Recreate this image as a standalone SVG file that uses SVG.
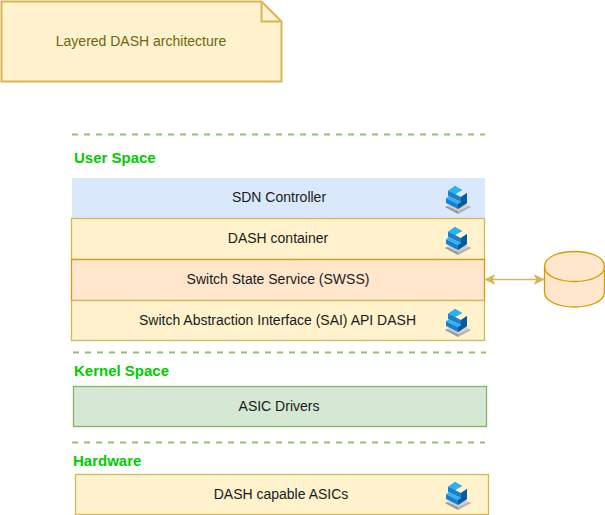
<svg xmlns="http://www.w3.org/2000/svg" width="605" height="515" viewBox="0 0 605 515">
<defs>
<style>
text{font-family:"Liberation Sans",Arial,sans-serif;font-size:14px;fill:#1a1a1a;text-anchor:middle}
.h{font-size:15px;font-weight:bold;fill:#00cc00;text-anchor:start}
.y{fill:#fff2cc;stroke:#d6b656;stroke-width:1.3}
.sep{stroke:#82b366;stroke-width:2;stroke-dasharray:6 6;opacity:.85;fill:none}
</style>
<marker id="a" viewBox="0 0 10 10" refX="9" refY="5" markerWidth="11" markerHeight="11" orient="auto-start-reverse" markerUnits="userSpaceOnUse"><path d="M0 0L10 5L0 10L2.500 5Z" fill="#d6b656"/></marker>
<g id="ic">
<path d="M-13 21L0 14L13 21L0 28Z" fill="#d0d0d0"/>
<path d="M-13 21L0 28V25L-11 20Z" fill="#9a9a9a"/>
<path d="M13 21L0 28V25L11 20Z" fill="#b5b5b5"/>
<path d="M-10 5L-3 0L4 4L-3 8L3 11L9 7V17L0 23L-12 17V12L0 18L3 16L-10 10Z" fill="#1b7fd0"/>
<path d="M-10 5L-3 0L4 4L-3 8Z" fill="#2bb5ee"/>
<path d="M-12 12L-9 10.500L3 16L0 18Z" fill="#2bb5ee"/>
<path d="M3 11L9 7V17L0 23V18L3 16Z" fill="#0b5a9e"/>
</g>
</defs>
<g id="note"><path class="y" style="stroke-width:2" d="M1.500 1.500H261.500L281.500 21.500V81.500H1.500Z"/><path d="M261.500 1.500V21.500H281.500" fill="none" stroke="#d6b656" stroke-width="2"/><text x="141" y="46" style="fill:#6e6510">Layered DASH architecture</text></g>
<g id="separators"><path class="sep" d="M72 134.500H485"/><path class="sep" d="M73 352.500H486"/><path class="sep" d="M72 442.500H485"/></g>
<g id="labels"><text class="h" x="74" y="163">User Space</text><text class="h" x="74" y="376">Kernel Space</text><text class="h" x="73" y="466">Hardware</text></g>
<g id="sdn"><rect x="72" y="178" width="413" height="41" fill="#dae8fc"/><text x="279" y="202">SDN Controller</text><use href="#ic" x="458" y="186"/></g>
<g id="dash"><rect class="y" x="71.500" y="218.500" width="413" height="41"/><text x="278" y="243">DASH container</text><use href="#ic" x="458" y="227"/></g>
<g id="swss"><rect x="71.500" y="259.500" width="413" height="41" fill="#ffe6cc" stroke="#d79b00" stroke-width="1.300"/><text x="278" y="284">Switch State Service (SWSS)</text></g>
<g id="sai"><rect class="y" x="71.500" y="300.500" width="413" height="40"/><text x="277.500" y="325">Switch Abstraction Interface (SAI) API DASH</text><use href="#ic" x="458" y="309"/></g>
<g id="drivers"><rect x="73.500" y="386.500" width="413" height="40" fill="#d5e8d4" stroke="#82b366" stroke-width="1.300"/><text x="279" y="411">ASIC Drivers</text></g>
<g id="asics"><rect class="y" x="75.500" y="474.500" width="413" height="40"/><text x="281" y="499">DASH capable ASICs</text><use href="#ic" x="458" y="482"/></g>
<g id="db"><path d="M544.500 266.500C544.500 246.500 604.500 246.500 604.500 266.500V292C604.500 312 544.500 312 544.500 292Z" fill="#ffe6cc" stroke="#d79b00" stroke-width="1.300"/><path d="M544.500 266.500C544.500 286.500 604.500 286.500 604.500 266.500" fill="none" stroke="#d79b00" stroke-width="1.300"/></g>
<g id="connectors"><path d="M485.500 279.500H543.500" fill="none" stroke="#d6b656" stroke-width="1.300" marker-start="url(#a)" marker-end="url(#a)"/></g>
</svg>
